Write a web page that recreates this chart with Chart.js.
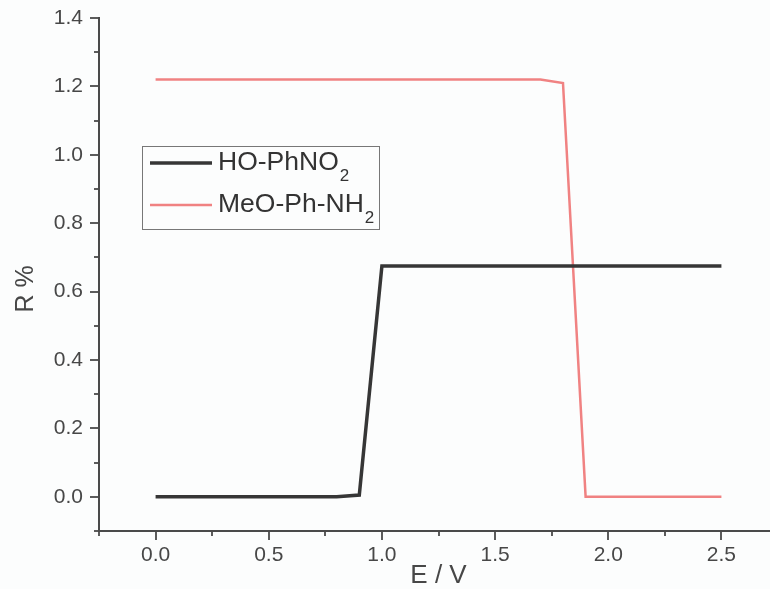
<!DOCTYPE html>
<html><head><meta charset="utf-8">
<script src="https://cdn.jsdelivr.net/npm/chart.js@4/dist/chart.umd.min.js"></script>
<style>
html,body{margin:0;padding:0;background:#fcfdfd;overflow:hidden;width:770px;height:589px}
#wrap{width:770px;height:589px;overflow:hidden;position:relative}
#c{display:block;width:800px;height:589px}
</style></head><body>
<div id="wrap"><canvas id="c" width="800" height="589"></canvas></div>
<script>
// ---- data ----
const potentials = [0.0,0.1,0.2,0.3,0.4,0.5,0.6,0.7,0.8,0.9,1.0,1.1,1.2,1.3,1.4,1.5,1.6,1.7,1.8,1.9,2.0,2.1,2.2,2.3,2.4,2.5];
const hoPhNO2   = [0,0,0,0,0,0,0,0,0,0.005,0.675,0.675,0.675,0.675,0.675,0.675,0.675,0.675,0.675,0.675,0.675,0.675,0.675,0.675,0.675,0.675];
const meoPhNH2  = [1.22,1.22,1.22,1.22,1.22,1.22,1.22,1.22,1.22,1.22,1.22,1.22,1.22,1.22,1.22,1.22,1.22,1.22,1.21,0,0,0,0,0,0,0];
const seriesNames = ['HO-PhNO\u2082','MeO-Ph-NH\u2082'];
const xTickLabels = ['0.0','0.5','1.0','1.5','2.0','2.5'];
const yTickLabels = ['0.0','0.2','0.4','0.6','0.8','1.0','1.2','1.4'];
const xTitle = 'E / V';
const yTitle = 'R %';

const FONT = '"Liberation Sans", Arial, Helvetica, sans-serif';
const AXIS = '#4a4a4a';
const TEXT = '#474747';
const seriesColors = ['#363636','#f08282'];
const seriesWidths = [3.5,2.5];

function labelFor(list, v){
  const f = list.find(l => Math.abs(parseFloat(l) - v) < 1e-6);
  return f === undefined ? '' : f;
}

const tickMarks = {
  id:'tickMarks',
  afterDraw(chart){
    const ctx = chart.ctx, a = chart.chartArea;
    const xs = chart.scales.x, ys = chart.scales.y;
    ctx.save();
    ctx.strokeStyle = AXIS; ctx.lineWidth = 1.8;
    xs.ticks.forEach(t => {
      const px = Math.round(xs.getPixelForValue(t.value));
      const len = labelFor(xTickLabels, t.value) ? 9 : 5;
      ctx.beginPath(); ctx.moveTo(px, a.bottom); ctx.lineTo(px, a.bottom + len); ctx.stroke();
    });
    ys.ticks.forEach(t => {
      const py = Math.round(ys.getPixelForValue(t.value));
      const len = labelFor(yTickLabels, t.value) ? 9 : 5;
      ctx.beginPath(); ctx.moveTo(a.left, py); ctx.lineTo(a.left - len, py); ctx.stroke();
    });
    // y title
    ctx.fillStyle = TEXT;
    ctx.font = '25px ' + FONT;
    ctx.textAlign = 'center'; ctx.textBaseline = 'middle';
    ctx.translate(26, 289); ctx.rotate(-Math.PI/2);
    ctx.fillText(yTitle, 0, 0);
    ctx.restore();
  }
};

const boxLegend = {
  id:'boxLegend',
  afterDraw(chart){
    const ctx = chart.ctx;
    ctx.save();
    ctx.strokeStyle = '#777'; ctx.lineWidth = 1;
    ctx.strokeRect(142.5, 146.5, 237, 83);
    const rows = [163, 205];
    chart.data.datasets.forEach((ds, i) => {
      const y = rows[i];
      ctx.strokeStyle = ds.borderColor; ctx.lineWidth = ds.borderWidth;
      ctx.beginPath(); ctx.moveTo(150, y); ctx.lineTo(212, y); ctx.stroke();
      let txt = ds.label, sub = '';
      if (txt.endsWith('\u2082')) { txt = txt.slice(0, -1); sub = '2'; }
      ctx.fillStyle = '#333';
      ctx.font = '26.5px ' + FONT;
      ctx.textAlign = 'left'; ctx.textBaseline = 'middle';
      ctx.fillText(txt, 218, y);
      const w = ctx.measureText(txt).width;
      if (sub) {
        ctx.font = '17px ' + FONT;
        ctx.fillText(sub, 218 + w + 1, y + 13);
      }
    });
    ctx.restore();
  }
};

new Chart(document.getElementById('c'), {
  type:'line',
  data:{
    labels: potentials,
    datasets:[
      {label: seriesNames[0], data: potentials.map((x,i)=>({x, y: hoPhNO2[i]})), borderColor: seriesColors[0], borderWidth: seriesWidths[0], pointRadius:0, tension:0, fill:false, borderJoinStyle:'miter'},
      {label: seriesNames[1], data: potentials.map((x,i)=>({x, y: meoPhNH2[i]})), borderColor: seriesColors[1], borderWidth: seriesWidths[1], pointRadius:0, tension:0, fill:false, borderJoinStyle:'miter'}
    ]
  },
  options:{
    responsive:false, animation:false, devicePixelRatio:1,
    layout:{padding:{left:0, right:22, top:18, bottom:0}},
    plugins:{legend:{display:false}, tooltip:{enabled:false}},
    scales:{
      x:{
        type:'linear', min:-0.25, max:2.75,
        grid:{display:false, drawTicks:false},
        border:{display:true, color:AXIS, width:2},
        ticks:{stepSize:0.25, autoSkip:false, maxRotation:0, padding:12, color:TEXT,
               font:{family:FONT, size:21}, callback:(v)=>labelFor(xTickLabels, v)},
        title:{display:true, text:xTitle, color:TEXT, font:{family:FONT, size:26, lineHeight:1}, padding:{top:0,bottom:0}},
        afterFit:(s)=>{ s.height = 58; s.paddingLeft = 0; s.paddingRight = 0; }
      },
      y:{
        type:'linear', min:-0.1, max:1.4,
        grid:{display:false, drawTicks:false},
        border:{display:true, color:AXIS, width:2},
        ticks:{stepSize:0.1, autoSkip:false, padding:16, color:TEXT,
               font:{family:FONT, size:21}, callback:(v)=>labelFor(yTickLabels, v)},
        afterFit:(s)=>{ s.width = 99; s.paddingTop = 0; s.paddingBottom = 0; }
      }
    }
  },
  plugins:[tickMarks, boxLegend]
});
</script>
</body></html>
